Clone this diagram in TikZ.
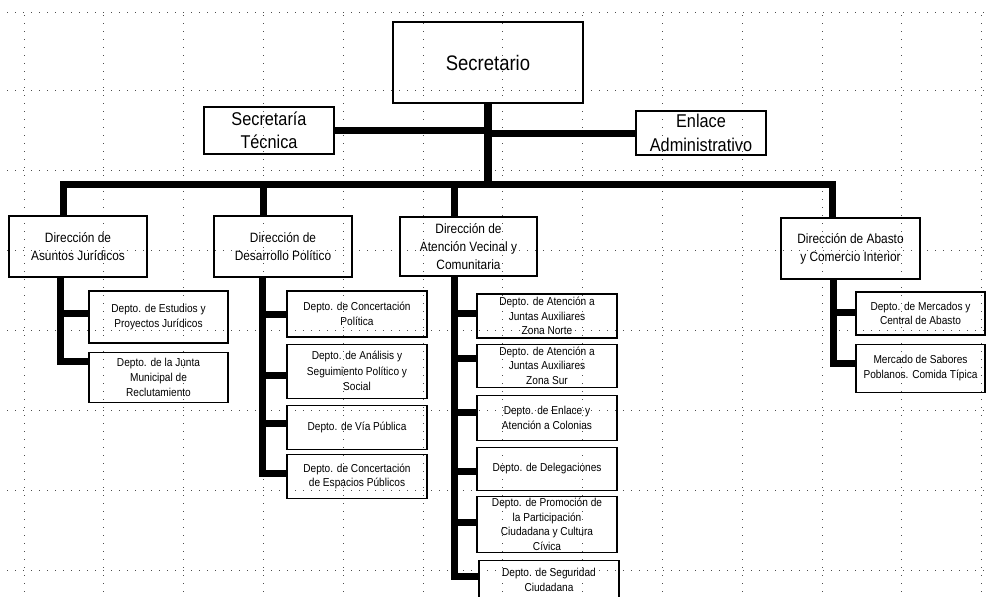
\documentclass[tikz,border=0pt]{standalone}
\usepackage{fontspec}
\setmainfont{Liberation Sans}[FakeStretch=0.88]
\usepackage{tikz}
\usetikzlibrary{positioning}

\begin{document}
\begin{tikzpicture}[
  x=1pt, y=-1pt,
  node distance=6pt,
  dotgrid/.style={line width=1pt, dash pattern=on 1pt off 7pt, black!70},
  box/.style={draw, line width=1.1pt, align=center, inner sep=2pt},
  topbox/.style={box, font=\fontsize{18.5}{23.5}\selectfont},
  dirbox/.style={box, minimum width=138pt, minimum height=61pt,
    font=\fontsize{13.5}{18}\selectfont},
  deptbox/.style={box, minimum width=140pt, minimum height=44pt,
    font=\fontsize{11.5}{14.5}\selectfont},
  bar/.style={line width=7pt, line join=miter, line cap=butt}
]
\useasboundingbox (0,0) rectangle (986,597);

% Grid
\foreach \i in {0,...,12}
  \draw[dotgrid] (24+79.8*\i,15) -- (24+79.8*\i,597);
\foreach \yy in {12,90,170,250,330,410,490,570}
  \draw[dotgrid] (7,\yy) -- (986,\yy);

% Top level
\node[box, minimum width=190pt, minimum height=81pt,
  font=\fontsize{21}{25}\selectfont] (sec) at (488,62.5) {Secretario};
\node[topbox, minimum width=130pt, minimum height=47pt] (tec) at (269,130.5)
  {Secretaría\\Técnica};
\node[topbox, minimum width=130pt, minimum height=44pt] (enl) at (701,133)
  {Enlace\\Administrativo};
\coordinate (bus) at (488,184);

% Direcciones
\node[dirbox] (ja) at (78,246.5) {Dirección de\\Asuntos Jurídicos};
\node[dirbox] (dp) at (283,246.5) {Dirección de\\Desarrollo Político};
\node[dirbox, minimum width=137pt, minimum height=59pt] (av) at (468.5,246.5)
  {Dirección de\\Atención Vecinal y\\Comunitaria};
\node[dirbox, minimum width=139pt] (ab) at (850.5,248.5)
  {Dirección de Abasto\\y Comercio Interior};

% Departamentos: Asuntos Juridicos
\node[deptbox, minimum width=139pt, minimum height=52pt, font=\fontsize{11.5}{15}\selectfont]
  (est) at (158.5,317) {Depto. de Estudios y\\Proyectos Jurídicos};
\node[deptbox, minimum width=139pt, minimum height=50pt, font=\fontsize{11.5}{15}\selectfont,
  below=8pt of est] (jun) {Depto. de la Junta\\Municipal de\\Reclutamiento};

% Departamentos: Desarrollo Politico
\node[deptbox, minimum height=46pt] (conc) at (357,314)
  {Depto. de Concertación\\Política};
\node[deptbox, minimum height=54pt, font=\fontsize{11.5}{15.5}\selectfont,
  below=of conc] (ana) {Depto. de Análisis y\\Seguimiento Político y\\Social};
\node[deptbox, below=of ana] (via) {Depto. de Vía Pública};
\node[deptbox, below=4pt of via] (esp)
  {Depto. de Concertación\\de Espacios Públicos};

% Departamentos: Atencion Vecinal
\node[deptbox] (norte) at (547,316)
  {Depto. de Atención a\\Juntas Auxiliares\\Zona Norte};
\node[deptbox, minimum height=43pt, below=5pt of norte] (sur)
  {Depto. de Atención a\\Juntas Auxiliares\\Zona Sur};
\node[deptbox, minimum height=45pt, below=7pt of sur] (enla)
  {Depto. de Enlace y\\Atención a Colonias};
\node[deptbox, minimum height=43pt, below=of enla] (dele)
  {Depto. de Delegaciones};
\node[deptbox, below=5pt of dele] (promo)
  {Depto. de Promoción de\\la Participación\\Ciudadana y Cultura\\Cívica};
\node[deptbox, minimum height=39pt, below=7pt of promo, xshift=2pt] (segu)
  {Depto. de Seguridad\\Ciudadana};

% Departamentos: Abasto
\node[deptbox, minimum width=129pt, minimum height=43pt] (merc) at (920.5,313.5)
  {Depto. de Mercados y\\Central de Abasto};
\node[deptbox, minimum width=129pt, minimum height=48pt, below=8pt of merc] (sabo)
  {Mercado de Sabores\\Poblanos. Comida Típica};

% Secretario to staff and bus
\draw[bar, line width=8.5pt] (sec.south) -- (sec.south |- bus);
\draw[bar] (tec.east) -- (tec.east -| sec.south);
\draw[bar] (enl.west) -- (enl.west -| sec.south);

% Bus to direcciones
\draw[bar] ([xshift=-15pt]ja.north) |- (bus) -| ([xshift=-18pt]ab.north);
\draw[bar] ([xshift=-20pt]dp.north) -- ([xshift=-20pt]dp.north |- bus);
\draw[bar] ([xshift=-14.5pt]av.north) -- ([xshift=-14.5pt]av.north |- bus);

% Direcciones to departamentos
\draw[bar] ([xshift=-18pt]ja.south) |- ([yshift=4pt]est.west);
\draw[bar] ([xshift=-18pt]ja.south) |- ([yshift=16pt]jun.west);

\draw[bar] ([xshift=-21pt]dp.south) |- (conc.west);
\draw[bar] ([xshift=-21pt]dp.south) |- ([yshift=-4pt]ana.west);
\draw[bar] ([xshift=-21pt]dp.south) |- ([yshift=4pt]via.west);
\draw[bar] ([xshift=-21pt]dp.south) |- ([yshift=3pt]esp.west);

\draw[bar] ([xshift=-14.5pt]av.south) |- ([yshift=3pt]norte.west);
\draw[bar] ([xshift=-14.5pt]av.south) |- ([yshift=7pt]sur.west);
\draw[bar] ([xshift=-14.5pt]av.south) |- ([yshift=5pt]enla.west);
\draw[bar] ([xshift=-14.5pt]av.south) |- ([yshift=-2.5pt]dele.west);
\draw[bar] ([xshift=-14.5pt]av.south) |- ([yshift=2pt]promo.west);
\draw[bar] ([xshift=-14.5pt]av.south) |- ([yshift=3.5pt]segu.west);

\draw[bar] ([xshift=-17pt]ab.south) |- ([yshift=1.5pt]merc.west);
\draw[bar] ([xshift=-17pt]ab.south) |- ([yshift=5pt]sabo.west);

\end{tikzpicture}
\end{document}
